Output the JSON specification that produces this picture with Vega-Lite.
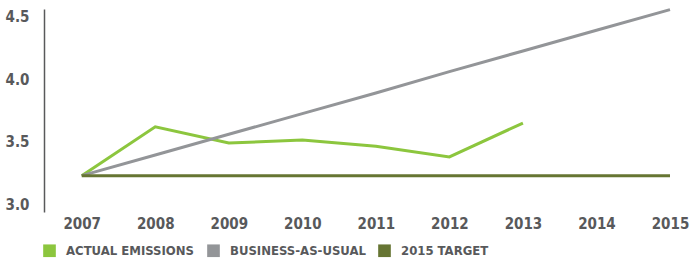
{
  "$schema": "https://vega.github.io/schema/vega-lite/v6.json",
  "autosize": {"type": "none"},
  "width": 626,
  "height": 203,
  "padding": {"left": 44, "top": 9, "right": 27, "bottom": 49},
  "background": "white",
  "config": {
    "view": {"stroke": null},
    "font": "'DejaVu Sans Condensed', 'Liberation Sans Narrow', sans-serif"
  },
  "data": {
    "values": [
      {"year": 2007, "series": "ACTUAL EMISSIONS", "value": 3.23},
      {"year": 2008, "series": "ACTUAL EMISSIONS", "value": 3.62},
      {"year": 2009, "series": "ACTUAL EMISSIONS", "value": 3.49},
      {"year": 2010, "series": "ACTUAL EMISSIONS", "value": 3.515},
      {"year": 2011, "series": "ACTUAL EMISSIONS", "value": 3.465},
      {"year": 2012, "series": "ACTUAL EMISSIONS", "value": 3.38},
      {"year": 2013, "series": "ACTUAL EMISSIONS", "value": 3.65},
      {"year": 2007, "series": "BUSINESS-AS-USUAL", "value": 3.23},
      {"year": 2008, "series": "BUSINESS-AS-USUAL", "value": 3.395},
      {"year": 2009, "series": "BUSINESS-AS-USUAL", "value": 3.56},
      {"year": 2010, "series": "BUSINESS-AS-USUAL", "value": 3.725},
      {"year": 2011, "series": "BUSINESS-AS-USUAL", "value": 3.89},
      {"year": 2012, "series": "BUSINESS-AS-USUAL", "value": 4.06},
      {"year": 2013, "series": "BUSINESS-AS-USUAL", "value": 4.225},
      {"year": 2014, "series": "BUSINESS-AS-USUAL", "value": 4.39},
      {"year": 2015, "series": "BUSINESS-AS-USUAL", "value": 4.555},
      {"year": 2007, "series": "2015 TARGET", "value": 3.23},
      {"year": 2008, "series": "2015 TARGET", "value": 3.23},
      {"year": 2009, "series": "2015 TARGET", "value": 3.23},
      {"year": 2010, "series": "2015 TARGET", "value": 3.23},
      {"year": 2011, "series": "2015 TARGET", "value": 3.23},
      {"year": 2012, "series": "2015 TARGET", "value": 3.23},
      {"year": 2013, "series": "2015 TARGET", "value": 3.23},
      {"year": 2014, "series": "2015 TARGET", "value": 3.23},
      {"year": 2015, "series": "2015 TARGET", "value": 3.23}
    ]
  },
  "mark": {"type": "line", "strokeWidth": 3, "clip": false},
  "encoding": {
    "x": {
      "field": "year",
      "type": "quantitative",
      "scale": {"domain": [2006.487, 2015], "nice": false, "zero": false},
      "axis": {
        "title": null,
        "values": [2007, 2008, 2009, 2010, 2011, 2012, 2013, 2014, 2015],
        "format": "d",
        "domain": false,
        "ticks": false,
        "grid": false,
        "labelFontWeight": "bold",
        "labelFontSize": 15,
        "labelColor": "#58595b",
        "labelPadding": 4,
        "labelFlush": false
      }
    },
    "y": {
      "field": "value",
      "type": "quantitative",
      "scale": {"domain": [2.94, 4.56], "nice": false, "zero": false},
      "axis": {
        "title": null,
        "values": [3.0, 3.5, 4.0, 4.5],
        "format": ".1f",
        "domain": true,
        "domainColor": "#58595b",
        "domainWidth": 1.5,
        "ticks": false,
        "grid": false,
        "labelFontWeight": "bold",
        "labelFontSize": 15,
        "labelColor": "#58595b",
        "labelPadding": 15
      }
    },
    "color": {
      "field": "series",
      "type": "nominal",
      "scale": {
        "domain": ["ACTUAL EMISSIONS", "BUSINESS-AS-USUAL", "2015 TARGET"],
        "range": ["#8cc63e", "#939598", "#667533"]
      },
      "legend": {
        "title": null,
        "orient": "none",
        "direction": "horizontal",
        "legendX": -1,
        "legendY": 235,
        "symbolType": "square",
        "symbolSize": 160,
        "symbolStrokeWidth": 0,
        "labelFontWeight": "bold",
        "labelFontSize": 13,
        "labelColor": "#58595b",
        "labelOffset": 10,
        "columnPadding": 12,
        "labelLimit": 300,
        "encode": {
          "symbols": {
            "update": {
              "fill": {"scale": "color", "field": "value"},
              "fillOpacity": {"value": 1},
              "strokeWidth": {"value": 0}
            }
          }
        }
      }
    }
  }
}
